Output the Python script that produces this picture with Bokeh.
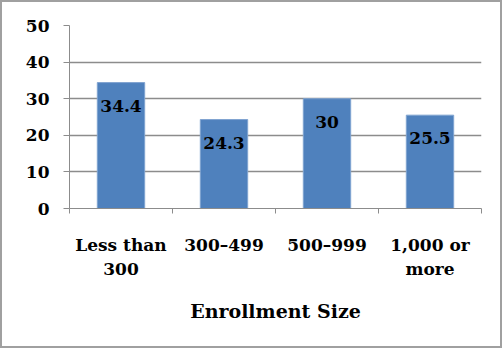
from bokeh.plotting import figure
from bokeh.models import Range1d, FixedTicker, ColumnDataSource
from bokeh.core.properties import value
from bokeh.embed import file_html
from bokeh.resources import INLINE

categories = ["Less than\n300", "300–499", "500–999", "1,000 or\nmore"]
values = [34.4, 24.3, 30, 25.5]
labels = ["34.4", "24.3", "30", "25.5"]
y_ticks = [0, 10, 20, 30, 40, 50]

FONT = "DejaVu Serif"
GRID = "#8c8c8c"

xs = [i + 0.5 for i in range(len(categories))]
src = ColumnDataSource(dict(x=xs, top=values, lab=labels))

p = figure(width=502, height=348, output_backend="svg", toolbar_location=None,
           x_range=Range1d(0, len(categories)), y_range=Range1d(0, 50),
           min_border_left=67, min_border_right=23, min_border_top=23, min_border_bottom=142)
p.styles = {"border": "2px solid #a0a0a0", "box-sizing": "border-box"}
p.outline_line_color = None
p.background_fill_color = "white"
p.border_fill_color = "white"

p.vbar(x="x", top="top", width=0.46, source=src, fill_color="#4F81BD",
       line_color="#7FA3D0", line_width=1)
p.text(x="x", y="top", text="lab", source=src, text_align="center",
       text_baseline="middle", y_offset=23, text_font=value(FONT),
       text_font_style="bold", text_font_size="17px", text_color="black")

# y axis
p.yaxis.ticker = FixedTicker(ticks=y_ticks)
p.yaxis.axis_line_color = GRID
p.yaxis.major_tick_line_color = GRID
p.yaxis.major_tick_out = 6
p.yaxis.major_tick_in = 0
p.yaxis.minor_tick_line_color = None
p.yaxis.major_label_standoff = 14
p.yaxis.major_label_text_font = FONT
p.yaxis.major_label_text_font_style = "bold"
p.yaxis.major_label_text_font_size = "17px"
p.yaxis.major_label_text_color = "black"

# x axis
p.xaxis.ticker = FixedTicker(ticks=xs, minor_ticks=list(range(len(categories) + 1)))
p.xaxis.major_label_overrides = {x: c for x, c in zip(xs, categories)}
p.xaxis.axis_line_color = GRID
p.xaxis.major_tick_line_color = None
p.xaxis.minor_tick_line_color = GRID
p.xaxis.minor_tick_out = 5
p.xaxis.minor_tick_in = 0
p.xaxis.major_label_standoff = 20
p.xaxis.major_label_text_font = FONT
p.xaxis.major_label_text_font_style = "bold"
p.xaxis.major_label_text_font_size = "17px"
p.xaxis.major_label_text_color = "black"
p.xaxis.axis_label = "Enrollment Size"
p.xaxis.axis_label_standoff = 18
p.xaxis.axis_label_text_font = FONT
p.xaxis.axis_label_text_font_style = "bold"
p.xaxis.axis_label_text_font_size = "19px"
p.xaxis.axis_label_text_color = "black"

p.xgrid.grid_line_color = None
p.ygrid.ticker = FixedTicker(ticks=y_ticks)
p.ygrid.grid_line_color = GRID
p.ygrid.grid_line_width = 1.5

open("out.html", "w").write(file_html(p, INLINE))
